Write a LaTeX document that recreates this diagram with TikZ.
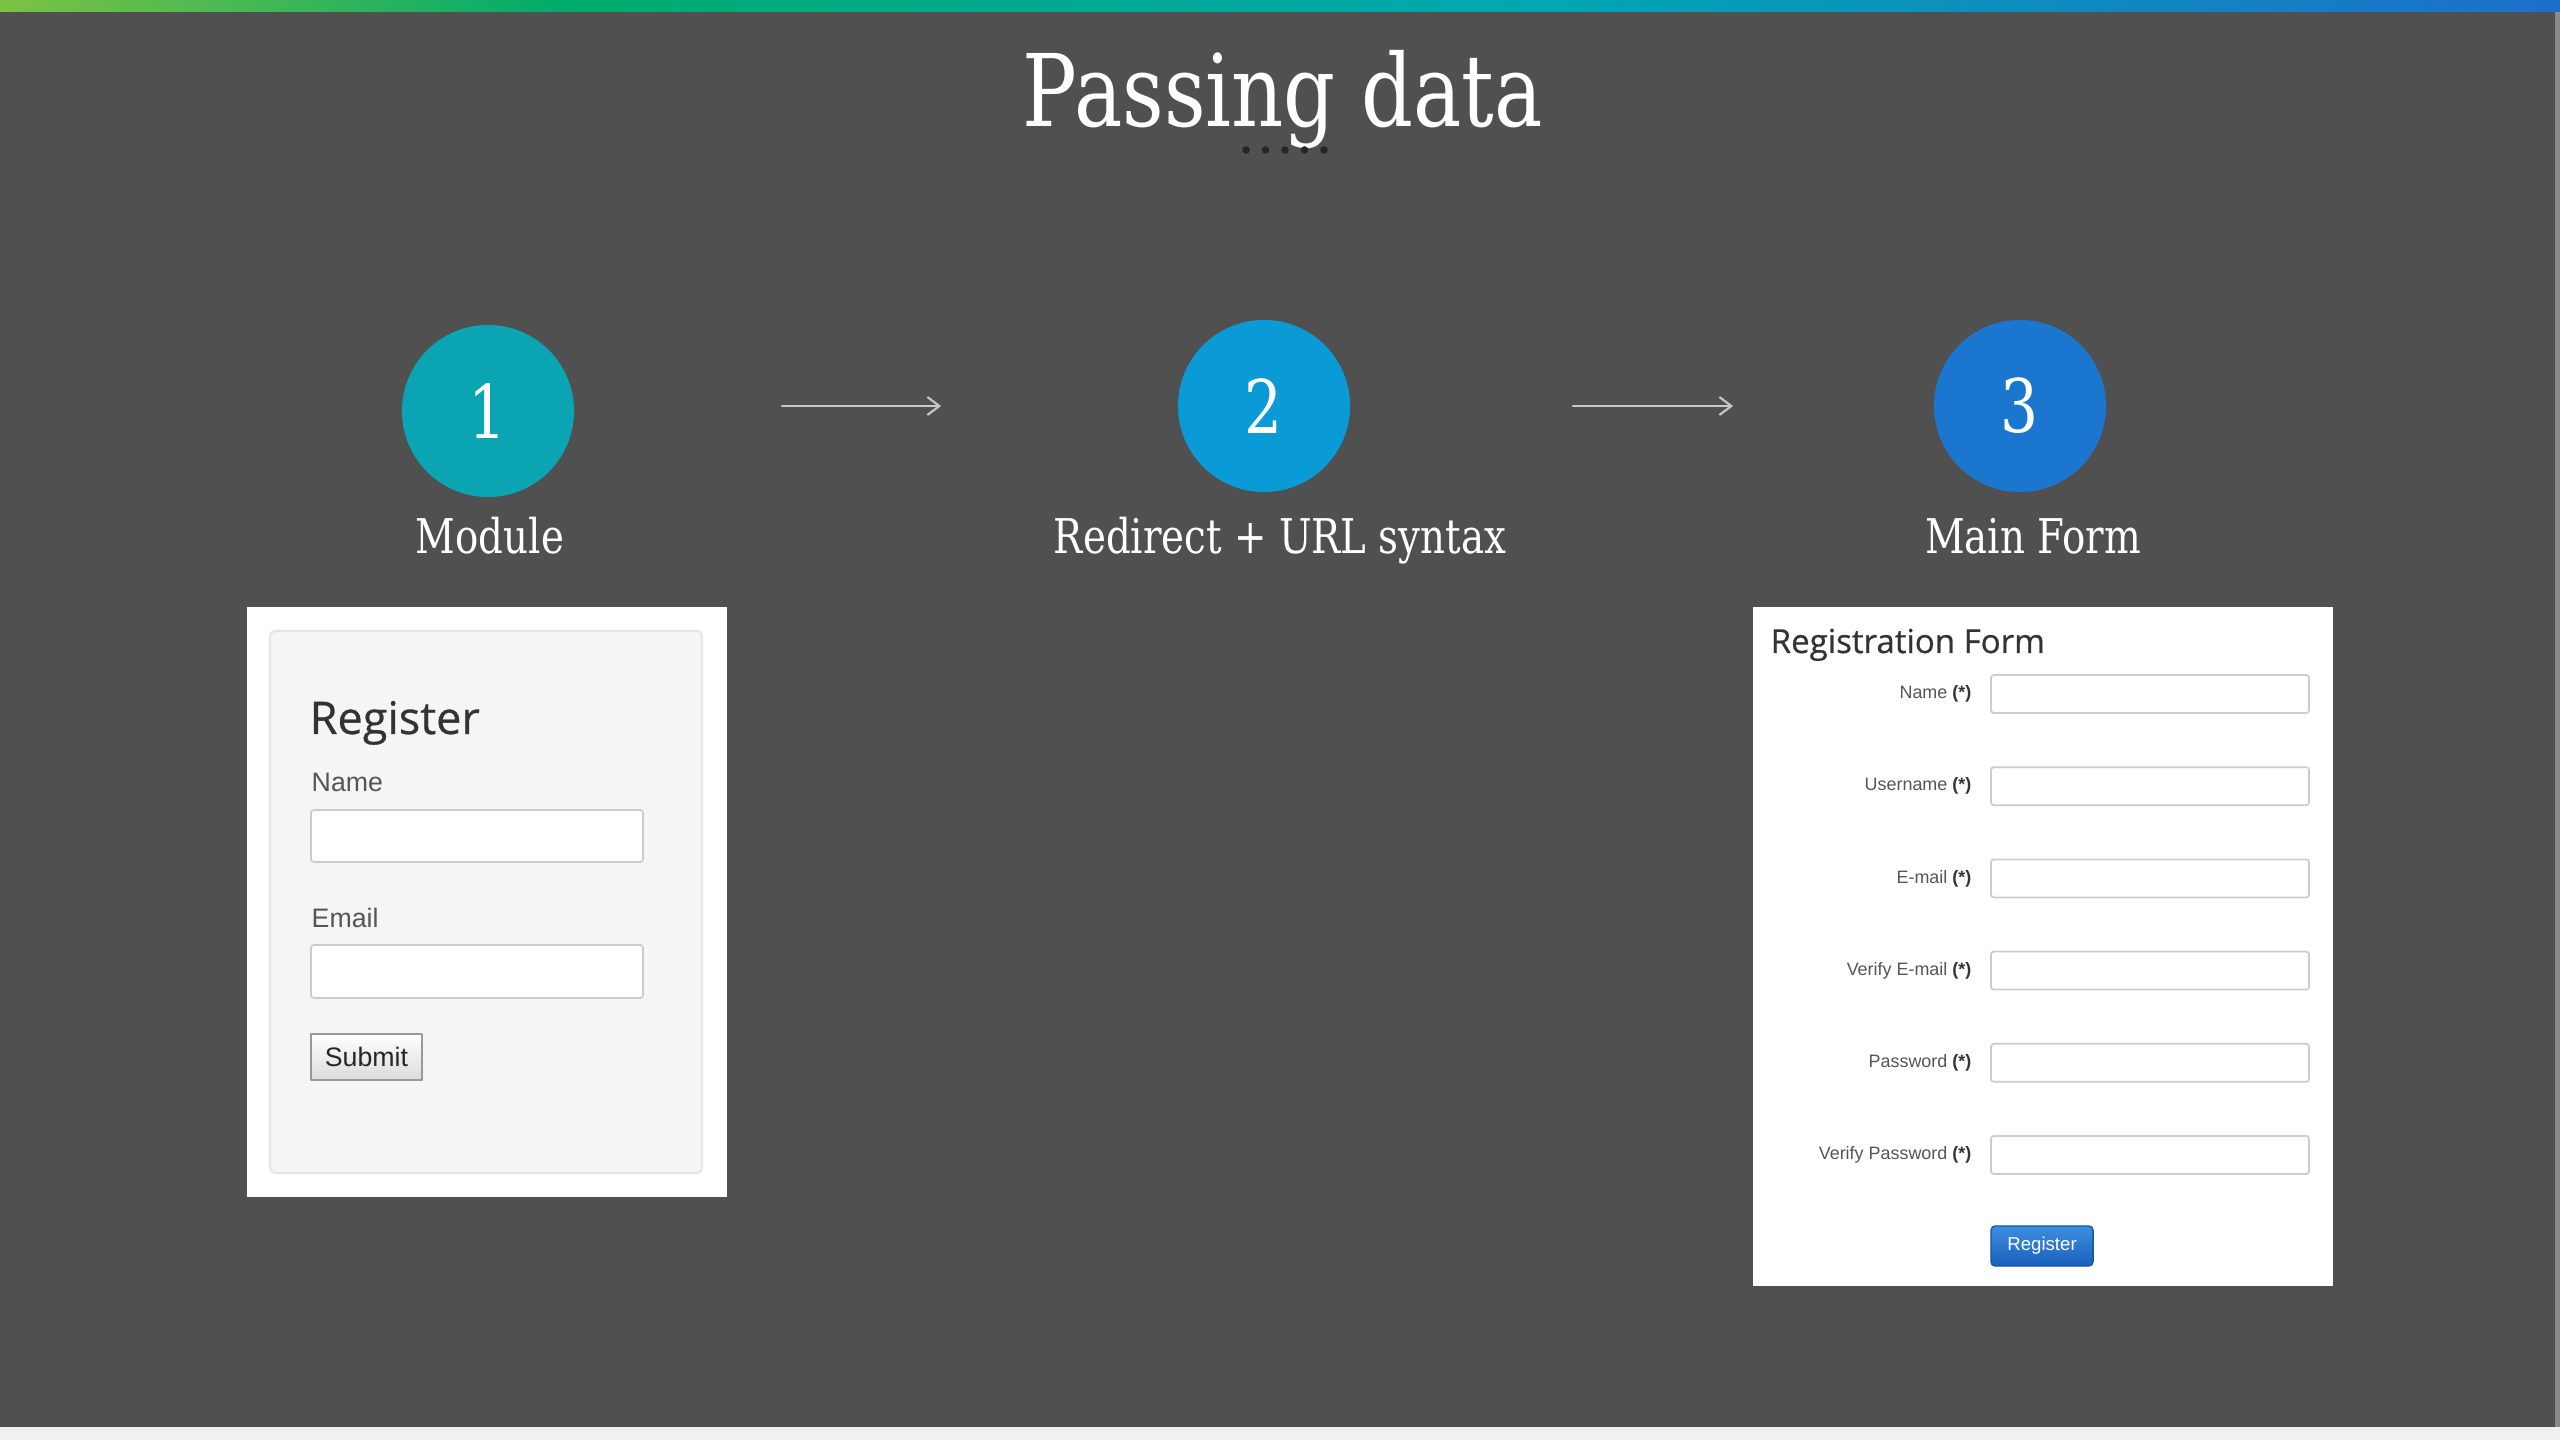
\documentclass[tikz,border=0pt]{standalone}
\usepackage{fontspec}
\setmainfont{Liberation Sans}
\newfontfamily\slabfont[FakeStretch=0.81]{DejaVu Serif}
\newfontfamily\opensans[FakeBold=0.6]{Open Sans}
\usetikzlibrary{arrows.meta,positioning}

\definecolor{slide}{HTML}{505050}
\definecolor{barA}{HTML}{7CC242}
\definecolor{barB}{HTML}{00AB6C}
\definecolor{barC}{HTML}{00A7B2}
\definecolor{barD}{HTML}{1C6FCC}
\definecolor{stepone}{HTML}{0AA4B2}
\definecolor{steptwo}{HTML}{0A9AD6}
\definecolor{stepthree}{HTML}{1B76CF}
\definecolor{arrowgrey}{HTML}{C8C8C8}
\definecolor{dotdark}{HTML}{262626}
\definecolor{panelfill}{HTML}{F5F5F5}
\definecolor{panelline}{HTML}{E6E6E6}
\definecolor{boxline}{HTML}{CCCCCC}
\definecolor{headdark}{HTML}{333333}
\definecolor{lblgrey}{HTML}{555555}
\definecolor{regblueA}{HTML}{3D8FE0}
\definecolor{regblueB}{HTML}{1B5FBA}
\definecolor{bottomstrip}{HTML}{F0F0F0}
\definecolor{edgegrey}{HTML}{8A8A8A}

\pgfdeclarehorizontalshading{topbar}{100bp}{color(0bp)=(barA); color(25bp)=(barA); color(36bp)=(barB); color(55bp)=(barC); color(75bp)=(barD); color(100bp)=(barD)}

\begin{document}
\begin{tikzpicture}[x=0.01cm, y=-0.01cm, line join=round, line cap=round,
  >={Straight Barb[length=1.2mm,width=1.8mm]},
  stepdot/.style={circle, minimum size=1.72cm, inner sep=0pt, text=white,
    font=\slabfont\fontsize{21}{21}\selectfont},
  caption/.style={anchor=base, text=white, inner sep=0pt,
    font=\slabfont\fontsize{13.6}{15}\selectfont},
  flow/.style={->, draw=arrowgrey, line width=0.6pt},
  inbox/.style={draw=boxline, fill=white, line width=0.5pt, rounded corners=0.8pt},
  fieldname/.style={anchor=base west, inner sep=0pt, text=lblgrey,
    font=\fontsize{7.6}{9}\selectfont},
  lbl/.style={anchor=east, inner sep=0pt, text=lblgrey,
    font=\fontsize{5.1}{6}\selectfont}]
  \useasboundingbox (0,0) rectangle (2560,1440);
  % slide
  \fill[slide] (0,0) rectangle (2560,1440);
  \shade[shading=topbar] (0,0) rectangle (2560,12);
  \fill[bottomstrip] (0,1427) rectangle (2560,1440);
  \fill[edgegrey] (2555,12) rectangle (2560,1427);

  \node[anchor=base, text=white, inner sep=0pt,
    font=\slabfont\fontsize{28.5}{30}\selectfont] (title) at (1283,127) {Passing data};
  \foreach \k in {0,...,4}
    \fill[dotdark] (1246+19.5*\k,150) circle (3.8);

  % steps
  \node[stepdot, fill=stepone] (c1) at (488,411) {1};
  \node[stepdot, fill=steptwo] (c2) at (1264,406) {2};
  \node[stepdot, fill=stepthree] (c3) at (2020,406) {3};
  \node[caption] (t1) at (490,554) {Module};
  \node[caption] (t2) at (1280,554) {Redirect + URL syntax};
  \node[caption] (t3) at (2033,554) {Main Form};
  \draw[flow, shorten <=2.07cm, shorten >=2.36cm] (c1.east |- c2) -- (c2.west);
  \draw[flow, shorten <=2.22cm, shorten >=2cm] (c2.east) -- (c3.west);

  % module form
  \fill[white] (247,607) rectangle (727,1197);
  \draw[fill=panelfill, draw=panelline, line width=0.6pt, rounded corners=1.5pt]
    (270,631) rectangle (702,1173);
  \node[anchor=base west, inner sep=0pt, text=headdark,
    font=\opensans\fontsize{12.8}{14}\selectfont] (regtitle) at (309,734) {Register};
  \node[fieldname] (fname) at (311,792) {Name};
  \draw[inbox] (311,810) rectangle (643,862);
  \node[fieldname] (femail) at (311,927) {Email};
  \draw[inbox] (311,945) rectangle (643,998);
  \node[draw=black!40, top color=white, bottom color=black!14, line width=0.6pt,
    minimum width=1.11cm, minimum height=0.46cm, inner sep=0pt, text=black!85,
    font=\fontsize{7.6}{9}\selectfont] (submit) at (366.5,1057) {Submit};

  % main form
  \fill[white] (1753,607) rectangle (2333,1286);
  \node[anchor=base west, inner sep=0pt, text=headdark,
    font=\opensans\fontsize{9.4}{11}\selectfont] (formtitle) at (1770,653) {Registration Form};
  \foreach \t [count=\i from 0] in {Name,Username,E-mail,Verify E-mail,Password,Verify Password}{
    \pgfmathsetmacro\ry{694+92.2*\i}
    \node[lbl] (l\i) at (1972,\ry) {\t\ \textcolor{headdark}{\textbf{(*)}}};
    \draw[inbox] (1991,\ry-19) rectangle (2309,\ry+19);
  }
  \node[draw=regblueB!90!black, top color=regblueA, bottom color=regblueB,
    rounded corners=1.2pt, minimum width=1.02cm, minimum height=0.4cm, inner sep=0pt,
    text=white, font=\fontsize{5.3}{6}\selectfont] (regbtn) at (2042,1246) {Register};
\end{tikzpicture}
\end{document}
